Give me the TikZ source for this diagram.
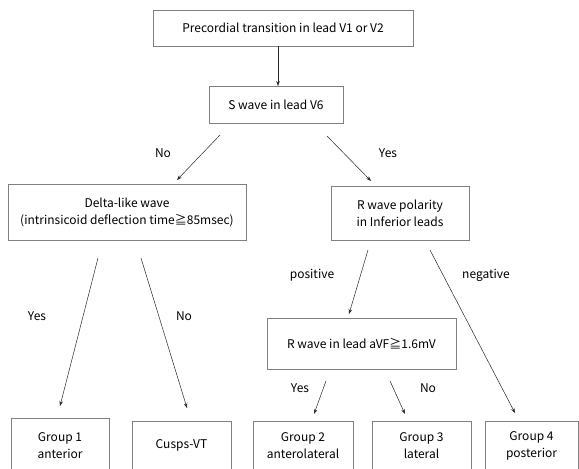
\documentclass[tikz,border=0pt]{standalone}
\usepackage{fontspec}
\setmainfont{Noto Sans CJK JP}
\usetikzlibrary{arrows.meta}
\begin{document}
\begin{tikzpicture}[x=1pt,y=-1pt,
  box/.style={draw={rgb,255:red,128;green,128;blue,128},line width=0.8pt,align=center,inner sep=0pt,font=\fontsize{12}{17}\selectfont},
  lbl/.style={font=\fontsize{12}{14}\selectfont,inner sep=0pt},
  arr/.style={draw={rgb,255:red,40;green,40;blue,40},line width=0.5pt,-{Stealth[length=5pt,width=3.6pt]}}]
\clip (0,0) rectangle (579,469);
\fill[white] (0,0) rectangle (579,469);
% boxes
\node[box,minimum width=260pt,minimum height=36pt] (top) at (283,28) {Precordial transition in lead V1 or V2};
\node[box,minimum width=134pt,minimum height=37pt] (sw) at (276,104.5) {S wave in lead V6};
\node[box,minimum width=238pt,minimum height=56pt] (delta) at (127,212) {Delta-like wave\\(intrinsicoid deflection time≧85msec)};
\node[box,minimum width=138pt,minimum height=54pt] (pol) at (400,213) {R wave polarity\\in Inferior leads};
\node[box,minimum width=189pt,minimum height=51pt] (avf) at (361.5,343.5) {R wave in lead aVF≧1.6mV};
\node[box,minimum width=98pt,minimum height=60pt,anchor=north] (g1) at (60,418) {};
\node[box,minimum width=99pt,minimum height=60pt,anchor=north] (cv) at (181.5,421) {};
\node[box,minimum width=100pt,minimum height=60pt,anchor=north] (g2) at (303,421) {};
\node[box,minimum width=99pt,minimum height=60pt,anchor=north] (g3) at (421.5,421) {};
\node[box,minimum width=93pt,minimum height=60pt,anchor=north] (g4) at (531.5,421) {};
\node[box,draw=none] (g1t) at (60,446) {Group 1\\anterior};
\node[box,draw=none] (cvt) at (181.5,445) {Cusps-VT};
\node[box,draw=none] (g2t) at (303,446) {Group 2\\anterolateral};
\node[box,draw=none] (g3t) at (421.5,446) {Group 3\\lateral};
\node[box,draw=none] (g4t) at (531.5,446) {Group 4\\posterior};
% labels
\node[lbl] (lno1) at (163,153) {No};
\node[lbl] (lyes1) at (388,153) {Yes};
\node[lbl] (lyes2) at (37,316) {Yes};
\node[lbl] (lno2) at (184,316) {No};
\node[lbl] (lpos) at (312,275) {positive};
\node[lbl] (lneg) at (486,275) {negative};
\node[lbl] (lyes3) at (300,388) {Yes};
\node[lbl] (lno3) at (428,388) {No};
% arrow end points
\coordinate (a1s) at (278,46);   \coordinate (a1e) at (278,86);
\coordinate (a2s) at (220,135);  \coordinate (a2e) at (177,180);
\coordinate (a3s) at (327,136);  \coordinate (a3e) at (371,181);
\coordinate (a4s) at (98,258);   \coordinate (a4e) at (60,406);
\coordinate (a5s) at (141,258);  \coordinate (a5e) at (187,408);
\coordinate (a6s) at (368,250);  \coordinate (a6e) at (349,314);
\coordinate (a7s) at (430,250);  \coordinate (a7e) at (515,413);
\coordinate (a8s) at (326,381);  \coordinate (a8e) at (314,414);
\coordinate (a9s) at (390,381);  \coordinate (a9e) at (405,414);
\draw[arr] (a1s) -- (a1e);
\draw[arr] (a2s) -- (a2e);
\draw[arr] (a3s) -- (a3e);
\draw[arr] (a4s) -- (a4e);
\draw[arr] (a5s) -- (a5e);
\draw[arr] (a6s) -- (a6e);
\draw[arr] (a7s) -- (a7e);
\draw[arr] (a8s) -- (a8e);
\draw[arr] (a9s) -- (a9e);
\end{tikzpicture}
\end{document}
